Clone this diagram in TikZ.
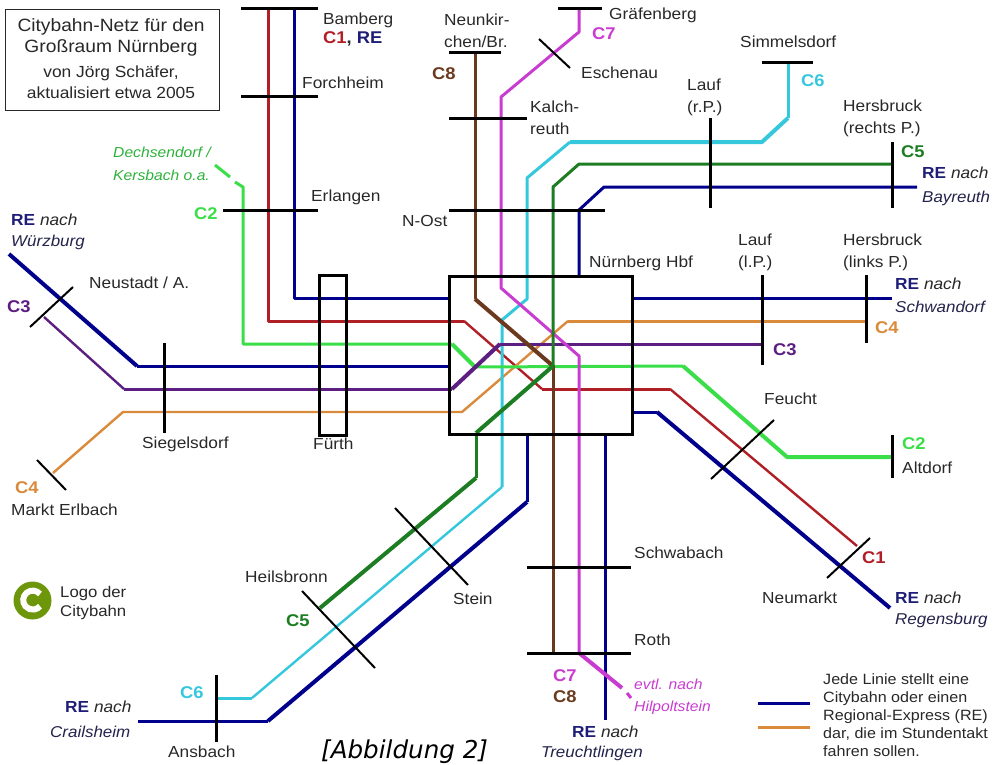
\documentclass[tikz,border=0pt]{standalone}
\usepackage{fontspec}
\setmainfont{Liberation Sans}
\newfontfamily\figfont{DejaVu Sans}
\definecolor{figRed}{RGB}{176,30,38}
\definecolor{figBlue}{RGB}{0,0,140}
\definecolor{figGreen}{RGB}{58,222,72}
\definecolor{figPurple}{RGB}{92,30,128}
\definecolor{figOrange}{RGB}{217,138,58}
\definecolor{figDark}{RGB}{29,125,34}
\definecolor{figCyan}{RGB}{53,200,220}
\definecolor{figMag}{RGB}{200,60,208}
\definecolor{figBrown}{RGB}{107,58,30}
\definecolor{figLogo}{RGB}{110,150,10}
\definecolor{figInk}{RGB}{40,40,40}
\definecolor{figNavy}{RGB}{30,30,120}
\newcommand{\renach}{\textcolor{figNavy}{\textbf{RE}} \textit{nach}}
\tikzset{
  rail/.style={line width=3pt,line join=round},
  heavy/.style={line width=4pt,line join=round},
  fine/.style={line width=2.4pt,line join=round},
  halt/.style={line width=3pt,black},
  slant/.style={line width=2pt,black},
  lbl/.style={inner sep=0pt,anchor=west,align=left,text=figInk,transform shape,xscale=1.08,
    font=\fontsize{16}{22}\selectfont},
  tag/.style={lbl,font=\fontsize{17}{20}\selectfont\bfseries},
  dest/.style={lbl,text=figNavy!45!figInk,font=\fontsize{15.7}{22}\selectfont\itshape},
  note/.style={lbl,font=\fontsize{14.9}{18}\selectfont},
}
\begin{document}
\begin{tikzpicture}[x=1pt,y=-1pt]
\useasboundingbox (0,0) rectangle (998,765);
\draw[rail,figRed] (268,9) -- (268,321) -- (464,321);
\draw[fine,figRed] (464,321) -- (542,389);
\draw[rail,figRed] (542,389) -- (670,389);
\draw[fine,figRed] (670,389) -- (857,546);
\draw[rail,figBlue] (294,9) -- (294,298) -- (449,298);
\draw[rail,figBlue] (137,366) -- (449,366);
\draw[heavy,figBlue] (9,254) -- (137,366);
\draw[rail,figBlue] (632,298) -- (892,298);
\draw[rail,figBlue] (917,187) -- (604,187) -- (579,210) -- (579,275);
\draw[rail,figBlue] (632,412) -- (657,412);
\draw[heavy,figBlue] (657,412) -- (890,608);
\draw[rail,figBlue] (527,434) -- (527,502);
\draw[heavy,figBlue] (527,502) -- (268,721);
\draw[rail,figBlue] (268,721) -- (138,721);
\draw[rail,figBlue] (605,434) -- (605,720);
\draw[fine,figOrange] (53,473) -- (123,412) -- (462,412) -- (568,321);
\draw[rail,figOrange] (568,321) -- (866,321);
\draw[rail,figCyan] (788,63) -- (788,118);
\draw[heavy,figCyan] (788,118) -- (762,142) -- (570,142);
\draw[rail,figCyan] (570,142) -- (527,178) -- (527,299) -- (502,320) -- (502,487);
\draw[fine,figCyan] (502,487) -- (252,698);
\draw[rail,figCyan] (252,698) -- (217,698);
\draw[rail,figGreen] (215,165) -- (230,177);
\draw[rail,figGreen] (235,182) -- (243,187) -- (243,344) -- (452,344);
\draw[heavy,figGreen] (452,344) -- (475,367);
\draw[rail,figGreen] (475,367) -- (683,366);
\draw[heavy,figGreen] (683,366) -- (787,457) -- (892,457);
\draw[fine,figPurple] (44,317) -- (124,389);
\draw[rail,figPurple] (124,389) -- (452,389);
\draw[heavy,figPurple] (452,389) -- (500,344);
\draw[rail,figPurple] (500,344) -- (762,344);
\draw[rail,figMag] (579,9) -- (579,32) -- (501,97) -- (501,288) -- (579,356) -- (579,653);
\draw[heavy,figMag] (579,653) -- (622,688);
\draw[rail,figMag] (627,693) -- (631,698);
\draw[rail,figBrown] (475,53) -- (475,299);
\draw[heavy,figBrown] (475,299) -- (553,366);
\draw[rail,figBrown] (553,366) -- (553,653);
\draw[rail,figDark] (891,164) -- (579,164) -- (553,187) -- (553,366);
\draw[heavy,figDark] (553,366) -- (476,433);
\draw[rail,figDark] (476,433) -- (476,478);
\draw[heavy,figDark] (476,478) -- (320,608);
\foreach \xa/\xb/\yy in {241/318/9,241/318/97,223/318/210,449/501/53,449/527/119,449/605/210,558/602/9,762/813/63,527/631/567,527/631/653}
  \draw[halt] (\xa,\yy) -- (\xb,\yy);
\foreach \xx/\ya/\yb in {164/343/433,710/118/208,892/142/208,762/275/365,866/275/343,892/435/478,216/675/742}
  \draw[halt] (\xx,\ya) -- (\xx,\yb);
\foreach \xa/\ya/\xb/\yb in {73/287/30/327,37/460/66/490,539/39/570/68,774/420/711/479,870/538/827/578,395/508/468/585,302/591/375/668}
  \draw[slant] (\xa,\ya) -- (\xb,\yb);
\draw[line width=3pt] (319,275) rectangle (346,435);
\draw[line width=3pt] (449,276) rectangle (632,434);
\draw[line width=1pt,figInk] (5,10) rectangle (219,111);
\node[lbl,anchor=center,align=center,font=\fontsize{17.8}{21}\selectfont] (title) at (111,37) {Citybahn-Netz für den\\Großraum Nürnberg};
\node[lbl,anchor=center,align=center,font=\fontsize{16.1}{21}\selectfont] (author) at (111,82) {von Jörg Schäfer,\\aktualisiert etwa 2005};
\foreach \n/\xx/\yy/\t in {bamberg/323/20/Bamberg,forchheim/302/83/Forchheim,erlangen/311/197/Erlangen,
  neustadt/89/283/{Neustadt / A.},siegelsdorf/142/444/Siegelsdorf,fuerth/313/444/Fürth,erlbach/11/510/Markt Erlbach,
  heilsbronn/245/577/Heilsbronn,stein/453/599/Stein,ansbach/168/752/Ansbach,neunkirchen/444/31/{Neunkir-\\chen/Br.},
  graefenberg/609/15/Gräfenberg,eschenau/581/73/Eschenau,simmelsdorf/740/42/Simmelsdorf,laufr/687/97/{Lauf\\(r.P.)},
  kalchreuth/530/118/{Kalch-\\reuth},hersbr/843/118/{Hersbruck\\(rechts P.)},nost/402/221/N-Ost,hbf/589/263/Nürnberg Hbf,
  laufl/738/252/{Lauf\\(l.P.)},hersbl/843/252/{Hersbruck\\(links P.)},feucht/764/399/Feucht,altdorf/902/468/Altdorf,
  schwabach/634/553/Schwabach,roth/634/640/Roth,neumarkt/762/598/Neumarkt}
  \node[lbl] (\n) at (\xx,\yy) {\t};
\foreach \n/\xx/\yy/\t/\c in {c2a/194/214/C2/figGreen,c3a/7/307/C3/figPurple,c4a/15/488/C4/figOrange,c5a/286/621/C5/figDark,
  c6a/180/693/C6/figCyan,c8a/432/74/C8/figBrown,c7a/592/34/C7/figMag,c6b/801/81/C6/figCyan,c5b/901/152/C5/figDark,
  c4b/875/328/C4/figOrange,c3b/773/350/C3/figPurple,c2b/902/444/C2/figGreen,c1a/862/558/C1/figRed,c7b/553/676/C7/figMag,c8b/553/697/C8/figBrown}
  \node[tag,text=\c] (\n) at (\xx,\yy) {\t};
\node[tag] (c1re) at (323,39) {\textcolor{figRed}{C1}, \textcolor{figNavy}{RE}};
\foreach \n/\xx/\yy in {rewue/11/220,rebay/922/173,reschw/895/284,rereg/895/598,retreu/572/732,recrail/65/707}
  \node[lbl] (\n) at (\xx,\yy) {\renach};
\foreach \n/\xx/\yy/\t in {wuerzburg/11/242/Würzburg,bayreuth/922/198/Bayreuth,schwandorf/895/307/Schwandorf,regensburg/895/620/Regensburg,
  treuchtlingen/541/753/Treuchtlingen,crailsheim/50/732/Crailsheim}
  \node[dest] (\n) at (\xx,\yy) {\t};
\node[note,text=figGreen!80!black,font=\fontsize{14.5}{23}\selectfont\itshape] (dechsendorf) at (113,164) {Dechsendorf /\\Kersbach o.a.};
\node[note,text=figMag,font=\fontsize{14.5}{22}\selectfont\itshape] (hilpoltstein) at (634,697) {evtl. nach\\Hilpoltstein};
\node[note,font=\fontsize{15.5}{19}\selectfont] (logotext) at (60,603) {Logo der\\Citybahn};
\node[note] (legend) at (823,715) {Jede Linie stellt eine\\Citybahn oder einen\\Regional-Express (RE)\\dar, die im Stundentakt\\fahren sollen.};
\node[inner sep=0pt,anchor=west,text=black,font=\figfont\fontsize{24.6}{26}\selectfont\itshape] (abb) at (321,752) {[Abbildung 2]};
\fill[figLogo] (32.5,600.5) circle (19);
\draw[white,line width=6pt] (40,594) arc (-40:-320:9.5);
\draw[line width=3pt,figBlue] (758,703) -- (810,703);
\draw[line width=3pt,figOrange] (758,727) -- (810,727);
\end{tikzpicture}
\end{document}
